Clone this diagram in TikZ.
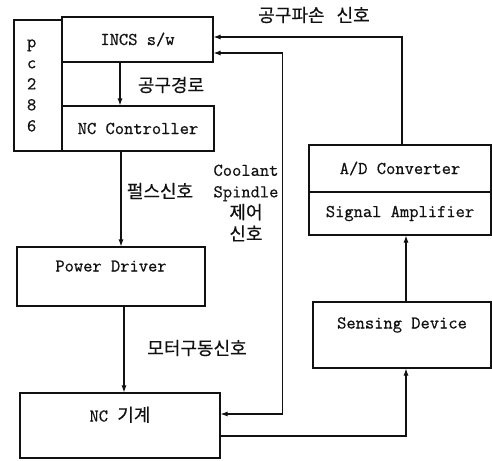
\documentclass[tikz,border=0pt]{standalone}
\usepackage{fontspec}
\setmonofont[FakeBold=0.6]{Latin Modern Mono}
\newfontfamily\krfont[FakeBold=0.4]{Noto Sans CJK KR}
\usetikzlibrary{arrows.meta}
\definecolor{ink}{HTML}{111111}
\tikzset{
  every node/.style = {font=\ttfamily, text=ink},
  ncbox/.style  = {draw=ink, line width=1.1pt, fill=white, inner sep=0pt, align=center,
                   font=\ttfamily\fontsize{18}{21}\selectfont},
  ncup/.style   = {text height=11pt, text depth=#1},
  nckr/.style   = {font=\krfont\fontsize{18}{21}\selectfont, text=ink, inner sep=0pt},
  nctxt/.style  = {font=\ttfamily\fontsize{18}{21.5}\selectfont, align=center, inner sep=0pt},
  ncgo/.style   = {-{Latex[length=7pt,width=5pt]}, draw=ink, line width=1.1pt},
  ncboth/.style = {{Latex[length=7pt,width=5pt]}-{Latex[length=7pt,width=5pt]}, draw=ink, line width=1.1pt},
}
\newcommand{\kr}[1]{{\krfont\fontsize{18}{21}\selectfont #1}}

\begin{document}
\begin{tikzpicture}[x=1pt, y=-1pt]
\useasboundingbox (0,0) rectangle (492,460);

% controller side
\node[ncbox, minimum width=48pt, minimum height=131pt, text width=22pt,
      inner xsep=13pt, align=left] (pc) at (38,85.5) {p\\c\\2\\8\\6};
\node[ncbox, minimum width=151pt, minimum height=45pt] (incs) at (137.5,39.5) {INCS s/w};
\node[ncbox, minimum width=152pt, minimum height=45pt] (ncc)  at (138,128.5) {NC Controller};
\node[ncbox, ncup=21pt, minimum width=188pt, minimum height=59pt] (pd) at (111,276.5) {Power Driver};
\node[ncbox, ncup=19pt, minimum width=200pt, minimum height=65pt] (ncm) at (120,425.5) {NC \kr{기계}};

% sensing side
\node[ncbox, minimum width=182pt, minimum height=47pt] (ad)  at (400,168.5) {A/D Converter};
\node[ncbox, minimum width=182pt, minimum height=43pt] (amp) at (400,213.5) {Signal Amplifier};
\node[ncbox, ncup=24pt, minimum width=178pt, minimum height=66pt] (sn) at (402,335) {Sensing Device};

% labels
\node[nckr] (brk)   at (314,15)  {공구파손\hspace{12pt}신호};
\node[nckr] (route) at (171,85)  {공구경로};
\node[nckr] (pulse) at (160,191) {펄스신호};
\node[nctxt] (cool) at (246,203) {Coolant\\Spindle\\\kr{제어}\\\kr{신호}};
\node[nckr] (motor) at (197,348) {모터구동신호};

\draw[ncgo] ([xshift=-17.5pt]incs.south) -- ([xshift=-17.5pt]incs.south |- ncc.north);
\draw[ncgo] ([xshift=-17pt]ncc.south) -- ([xshift=-17pt]ncc.south |- pd.north);
\draw[ncgo] ([xshift=13pt]pd.south) -- ([xshift=13pt]pd.south |- ncm.north);

\draw[ncgo]   ([xshift=2pt]ad.north) |- ([yshift=2.5pt]incs.east);
\draw[ncboth] ([yshift=-13.5pt]incs.east) -- ++(69,0) |- ([yshift=11.5pt]ncm.east);
\draw[ncgo]   ([yshift=-10.5pt]ncm.east) -| ([xshift=4pt]sn.south);
\draw[ncgo]   ([xshift=4pt]sn.north) -- ([xshift=4pt]sn.north |- amp.south);
\end{tikzpicture}
\end{document}
